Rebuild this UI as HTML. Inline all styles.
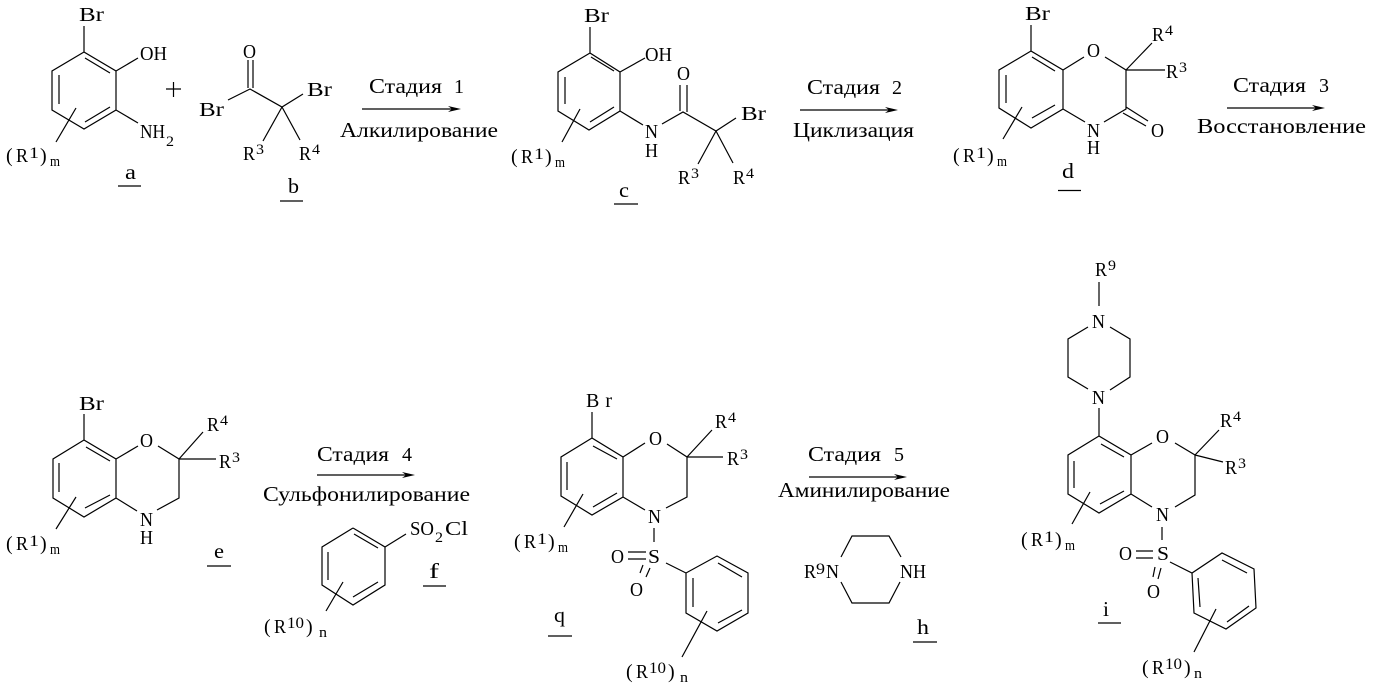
<!DOCTYPE html>
<html><head><meta charset="utf-8"><style>
html,body{margin:0;padding:0;background:#fff}
svg{display:block}
text{font-family:"Liberation Serif","DejaVu Serif",serif;font-size:20px;fill:#000}
.s{font-size:15px}
.u{font-size:16px}
.c{font-size:21px}
path{fill:none;stroke:#000;stroke-width:1.2}
.a{fill:#000;stroke:none}
</style></head><body>
<svg width="1378" height="687" viewBox="0 0 1378 687" xmlns="http://www.w3.org/2000/svg">
<!-- a -->
<path d="M84 26V52L116 71V110L84 129L52 110V71L84 52M85 58L110 73M59 75V104M85 122L110 107M116 71L138 58M116 110L138 123M76 108L56 142M166 89H181M173.500 82V97"/>
<text x="79" y="21" textLength="25" lengthAdjust="spacingAndGlyphs">Br</text><text x="140" y="60" textLength="27" lengthAdjust="spacingAndGlyphs">OH</text><text x="140" y="138" textLength="25" lengthAdjust="spacingAndGlyphs">NH</text><text class="s" x="166" y="146" textLength="8" lengthAdjust="spacingAndGlyphs">2</text>
<g transform="translate(3,162)"><text x="3">(</text><text x="13" textLength="12" lengthAdjust="spacingAndGlyphs">R</text><text class="u" x="26" y="-4" textLength="10" lengthAdjust="spacingAndGlyphs">1</text><text x="37">)</text><text class="s" x="47" y="4" textLength="10" lengthAdjust="spacingAndGlyphs">m</text></g>
<text class="c" x="125" y="179" textLength="11" lengthAdjust="spacingAndGlyphs">a</text><path d="M118 186H141"/>
<!-- b -->
<path d="M248 60V88M253 60V88M228 100L250 89L282 107L303 94M282 107L263 141M282 107L300 140M280 201H303"/>
<text x="243" y="58" textLength="13" lengthAdjust="spacingAndGlyphs">O</text><text x="199" y="116" textLength="25" lengthAdjust="spacingAndGlyphs">Br</text><text x="307" y="96" textLength="25" lengthAdjust="spacingAndGlyphs">Br</text>
<text x="243" y="160" textLength="12" lengthAdjust="spacingAndGlyphs">R</text><text class="s" x="256" y="154" textLength="8" lengthAdjust="spacingAndGlyphs">3</text><text x="299" y="160" textLength="12" lengthAdjust="spacingAndGlyphs">R</text><text class="s" x="312" y="154" textLength="8" lengthAdjust="spacingAndGlyphs">4</text>
<text class="c" x="288" y="193" textLength="11" lengthAdjust="spacingAndGlyphs">b</text>
<!-- arrow 1 -->
<path d="M362 109H456"/><path class="a" d="M448 106L461 109L448 112L452 109Z"/>
<text class="c" x="369" y="93" textLength="73" lengthAdjust="spacingAndGlyphs">Стадия</text><text x="454" y="93" textLength="10" lengthAdjust="spacingAndGlyphs">1</text><text class="c" x="340" y="137" textLength="158" lengthAdjust="spacingAndGlyphs">Алкилирование</text>
<!-- c -->
<path d="M590 27V53L620 72V111L589 130L558 111V72L590 53M591 57L614 71M565 77V104M590 122L614 107M620 72L645 58M620 111L643 125M662 124L683 112L716 131L736 118M680 85V111M687 85V112M716 131L698 164M716 131L733 163M580 109L562 142M614 204H638"/>
<text x="584" y="22" textLength="25" lengthAdjust="spacingAndGlyphs">Br</text><text x="645" y="61" textLength="27" lengthAdjust="spacingAndGlyphs">OH</text><text x="645" y="138" textLength="13" lengthAdjust="spacingAndGlyphs">N</text><text x="645" y="157" textLength="13" lengthAdjust="spacingAndGlyphs">H</text><text x="677" y="80" textLength="13" lengthAdjust="spacingAndGlyphs">O</text><text x="741" y="120" textLength="25" lengthAdjust="spacingAndGlyphs">Br</text>
<text x="678" y="184" textLength="12" lengthAdjust="spacingAndGlyphs">R</text><text class="s" x="691" y="178" textLength="8" lengthAdjust="spacingAndGlyphs">3</text><text x="733" y="184" textLength="12" lengthAdjust="spacingAndGlyphs">R</text><text class="s" x="746" y="178" textLength="8" lengthAdjust="spacingAndGlyphs">4</text>
<g transform="translate(508,163)"><text x="3">(</text><text x="13" textLength="12" lengthAdjust="spacingAndGlyphs">R</text><text class="u" x="26" y="-4" textLength="10" lengthAdjust="spacingAndGlyphs">1</text><text x="37">)</text><text class="s" x="47" y="4" textLength="10" lengthAdjust="spacingAndGlyphs">m</text></g>
<text class="c" x="619" y="197" textLength="10" lengthAdjust="spacingAndGlyphs">c</text>
<!-- arrow 2 -->
<path d="M800 110H894"/><path class="a" d="M885 107L898 110L885 113L889 110Z"/>
<text class="c" x="807" y="94" textLength="73" lengthAdjust="spacingAndGlyphs">Стадия</text><text x="892" y="94" textLength="10" lengthAdjust="spacingAndGlyphs">2</text><text class="c" x="793" y="137" textLength="121" lengthAdjust="spacingAndGlyphs">Циклизация</text>
<!-- d -->
<path d="M1031 25V51L1063 70V109L1031 128L999 108V70L1031 51M1032 57L1055 71M1006 75V103M1032 118L1055 105M1063 70L1084 57M1105 57L1126 70V109L1104 122M1063 109L1085 122M1126 107L1148 121M1123 113L1146 126M1126 70L1152 43M1126 70H1165M1022 107L1003 139M1058 190.500H1081"/>
<text x="1025" y="20" textLength="25" lengthAdjust="spacingAndGlyphs">Br</text><text x="1087" y="57" textLength="13" lengthAdjust="spacingAndGlyphs">O</text><text x="1087" y="137" textLength="13" lengthAdjust="spacingAndGlyphs">N</text><text x="1087" y="154" textLength="13" lengthAdjust="spacingAndGlyphs">H</text><text x="1151" y="137" textLength="13" lengthAdjust="spacingAndGlyphs">O</text>
<text x="1152" y="41" textLength="12" lengthAdjust="spacingAndGlyphs">R</text><text class="s" x="1165" y="35" textLength="8" lengthAdjust="spacingAndGlyphs">4</text><text x="1166" y="78" textLength="12" lengthAdjust="spacingAndGlyphs">R</text><text class="s" x="1179" y="72" textLength="8" lengthAdjust="spacingAndGlyphs">3</text>
<g transform="translate(950,162)"><text x="3">(</text><text x="13" textLength="12" lengthAdjust="spacingAndGlyphs">R</text><text class="u" x="26" y="-4" textLength="10" lengthAdjust="spacingAndGlyphs">1</text><text x="37">)</text><text class="s" x="47" y="4" textLength="10" lengthAdjust="spacingAndGlyphs">m</text></g>
<text class="c" x="1062" y="178" textLength="12" lengthAdjust="spacingAndGlyphs">d</text>
<!-- arrow 3 -->
<path d="M1227 108H1321"/><path class="a" d="M1312 105L1325 108L1312 111L1316 108Z"/>
<text class="c" x="1233" y="92" textLength="73" lengthAdjust="spacingAndGlyphs">Стадия</text><text x="1319" y="92" textLength="10" lengthAdjust="spacingAndGlyphs">3</text><text class="c" x="1197" y="133" textLength="169" lengthAdjust="spacingAndGlyphs">Восстановление</text>
<!-- e -->
<path d="M84 414V440L116 459V498L84 517L53 498V459L84 440M86 447L110 461M59 463V492M85 508L110 495M116 459L138 446M158 446L179 459V498L157 510M116 498L137 511M179 459L203 432M179 459H216M76 497L56 529M207 566H231"/>
<text x="79" y="410" textLength="25" lengthAdjust="spacingAndGlyphs">Br</text><text x="140" y="447" textLength="13" lengthAdjust="spacingAndGlyphs">O</text><text x="140" y="526" textLength="13" lengthAdjust="spacingAndGlyphs">N</text><text x="140" y="544" textLength="13" lengthAdjust="spacingAndGlyphs">H</text>
<text x="207" y="431" textLength="12" lengthAdjust="spacingAndGlyphs">R</text><text class="s" x="220" y="425" textLength="8" lengthAdjust="spacingAndGlyphs">4</text><text x="219" y="468" textLength="12" lengthAdjust="spacingAndGlyphs">R</text><text class="s" x="232" y="462" textLength="8" lengthAdjust="spacingAndGlyphs">3</text>
<g transform="translate(3,550)"><text x="3">(</text><text x="13" textLength="12" lengthAdjust="spacingAndGlyphs">R</text><text class="u" x="26" y="-4" textLength="10" lengthAdjust="spacingAndGlyphs">1</text><text x="37">)</text><text class="s" x="47" y="4" textLength="10" lengthAdjust="spacingAndGlyphs">m</text></g>
<text class="c" x="214" y="558" textLength="10" lengthAdjust="spacingAndGlyphs">e</text>
<!-- arrow 4 -->
<path d="M317 475H411"/><path class="a" d="M402 472L415 475L402 478L406 475Z"/>
<text class="c" x="317" y="461" textLength="72" lengthAdjust="spacingAndGlyphs">Стадия</text><text x="402" y="461" textLength="10" lengthAdjust="spacingAndGlyphs">4</text><text class="c" x="263" y="501" textLength="207" lengthAdjust="spacingAndGlyphs">Сульфонилирование</text>
<!-- f -->
<path d="M353 528L385 547V585L353 605L322 585V547L353 528M354 534L378 548M328 552V580M353 597L378 582M385 547L406 534M343 582L326 611M423 586H446"/>
<text x="410" y="535" textLength="24" lengthAdjust="spacingAndGlyphs">SO</text><text class="s" x="435" y="542" textLength="8" lengthAdjust="spacingAndGlyphs">2</text><text x="445" y="535" textLength="23" lengthAdjust="spacingAndGlyphs">Cl</text>
<g transform="translate(261,633)"><text x="3">(</text><text x="13" textLength="12" lengthAdjust="spacingAndGlyphs">R</text><text class="u" x="26" y="-5" textLength="17" lengthAdjust="spacingAndGlyphs">10</text><text x="45">)</text><text class="s" x="58" y="4" textLength="8" lengthAdjust="spacingAndGlyphs">n</text></g>
<text class="c" x="429" y="578" textLength="10" lengthAdjust="spacingAndGlyphs">f</text>
<!-- q -->
<path d="M592 412V438L623 457V497L592 515L561 496V457L592 438M593 446L617 459M567 462V490M593 507L617 493M623 457L645 443M667 444L687 457V497L666 508M623 497L645 510M687 457L712 430M687 457H723M583 494L564 527M654 528V542M628 552H646M628 559H646M643 565L640 573M650 568L646 577M666 563L686 573L717 556L748 573V613L717 631L686 613V573M718 563L742 577M693 578V607M718 623L742 610M707 611L682 657M548 636H572"/>
<text x="586" y="407" textLength="26" lengthAdjust="spacing">Br</text><text x="649" y="445" textLength="13" lengthAdjust="spacingAndGlyphs">O</text><text x="648" y="523" textLength="13" lengthAdjust="spacingAndGlyphs">N</text><text x="648" y="563" textLength="12" lengthAdjust="spacingAndGlyphs">S</text><text x="611" y="563" textLength="13" lengthAdjust="spacingAndGlyphs">O</text><text x="630" y="596" textLength="13" lengthAdjust="spacingAndGlyphs">O</text>
<text x="715" y="428" textLength="12" lengthAdjust="spacingAndGlyphs">R</text><text class="s" x="728" y="422" textLength="8" lengthAdjust="spacingAndGlyphs">4</text><text x="727" y="465" textLength="12" lengthAdjust="spacingAndGlyphs">R</text><text class="s" x="740" y="459" textLength="8" lengthAdjust="spacingAndGlyphs">3</text>
<g transform="translate(511,548)"><text x="3">(</text><text x="13" textLength="12" lengthAdjust="spacingAndGlyphs">R</text><text class="u" x="26" y="-4" textLength="10" lengthAdjust="spacingAndGlyphs">1</text><text x="37">)</text><text class="s" x="47" y="4" textLength="10" lengthAdjust="spacingAndGlyphs">m</text></g>
<g transform="translate(623,678)"><text x="3">(</text><text x="13" textLength="12" lengthAdjust="spacingAndGlyphs">R</text><text class="u" x="26" y="-5" textLength="17" lengthAdjust="spacingAndGlyphs">10</text><text x="45">)</text><text class="s" x="57" y="4" textLength="8" lengthAdjust="spacingAndGlyphs">n</text></g>
<text class="c" x="554" y="622" textLength="11" lengthAdjust="spacingAndGlyphs">q</text>
<!-- arrow 5 -->
<path d="M809 477H903"/><path class="a" d="M894 474L907 477L894 480L898 477Z"/>
<text class="c" x="808" y="461" textLength="73" lengthAdjust="spacingAndGlyphs">Стадия</text><text x="894" y="461" textLength="10" lengthAdjust="spacingAndGlyphs">5</text><text class="c" x="778" y="497" textLength="172" lengthAdjust="spacingAndGlyphs">Аминилирование</text>
<!-- h -->
<path d="M841 557L852 536H889L901 557M841 582L852 603H889L900 582M913 642H937"/>
<text x="804" y="578" textLength="12" lengthAdjust="spacingAndGlyphs">R</text><text class="u" x="816" y="574" textLength="9" lengthAdjust="spacingAndGlyphs">9</text><text x="826" y="578" textLength="13" lengthAdjust="spacingAndGlyphs">N</text><text x="900" y="578" textLength="26" lengthAdjust="spacingAndGlyphs">NH</text>
<text class="c" x="917" y="634" textLength="12" lengthAdjust="spacingAndGlyphs">h</text>
<!-- i -->
<path d="M1099 282V306M1088 327L1068 339V377L1088 389M1110 327L1130 339V377L1110 390M1099 408V436L1131 455V494L1099 513L1068 494V455L1099 436M1101 444L1124 457M1074 461V488M1100 504L1124 491M1131 455L1152 443M1175 443L1195 455V495L1175 507M1131 494L1152 507M1195 455L1219 430M1195 455L1223 462M1090 492L1072 524M1162 527V540M1136 551H1153M1136 558H1153M1155 567L1153 577M1161 568L1158 579M1170 562L1192 573L1222 553L1254 569L1256 608L1226 629L1194 613L1192 573M1222 560L1247 573M1198 578L1200 607M1227 622L1249 606M1216 609L1194 652M1098 623H1121"/>
<text x="1095" y="276" textLength="12" lengthAdjust="spacingAndGlyphs">R</text><text class="s" x="1108" y="270" textLength="8" lengthAdjust="spacingAndGlyphs">9</text><text x="1092" y="328" textLength="13" lengthAdjust="spacingAndGlyphs">N</text><text x="1092" y="404" textLength="13" lengthAdjust="spacingAndGlyphs">N</text><text x="1156" y="443" textLength="13" lengthAdjust="spacingAndGlyphs">O</text><text x="1156" y="521" textLength="13" lengthAdjust="spacingAndGlyphs">N</text><text x="1157" y="560" textLength="12" lengthAdjust="spacingAndGlyphs">S</text><text x="1119" y="560" textLength="13" lengthAdjust="spacingAndGlyphs">O</text><text x="1147" y="598" textLength="13" lengthAdjust="spacingAndGlyphs">O</text>
<text x="1220" y="427" textLength="12" lengthAdjust="spacingAndGlyphs">R</text><text class="s" x="1233" y="421" textLength="8" lengthAdjust="spacingAndGlyphs">4</text><text x="1225" y="474" textLength="12" lengthAdjust="spacingAndGlyphs">R</text><text class="s" x="1238" y="468" textLength="8" lengthAdjust="spacingAndGlyphs">3</text>
<g transform="translate(1018,546)"><text x="3">(</text><text x="13" textLength="12" lengthAdjust="spacingAndGlyphs">R</text><text class="u" x="26" y="-4" textLength="10" lengthAdjust="spacingAndGlyphs">1</text><text x="37">)</text><text class="s" x="47" y="4" textLength="10" lengthAdjust="spacingAndGlyphs">m</text></g>
<g transform="translate(1139,674)"><text x="3">(</text><text x="13" textLength="12" lengthAdjust="spacingAndGlyphs">R</text><text class="u" x="26" y="-5" textLength="17" lengthAdjust="spacingAndGlyphs">10</text><text x="45">)</text><text class="s" x="55" y="4" textLength="8" lengthAdjust="spacingAndGlyphs">n</text></g>
<text class="c" x="1103" y="616" textLength="6" lengthAdjust="spacingAndGlyphs">i</text>
</svg>
</body></html>
